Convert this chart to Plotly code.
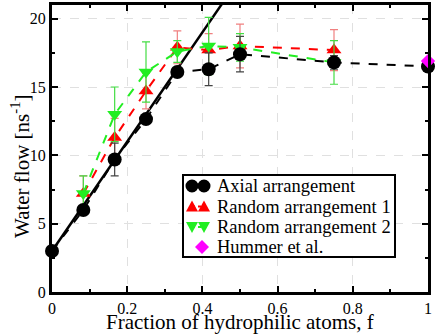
import plotly.graph_objects as go

# fraction of hydrophilic atoms
frac = [0, 1/12, 2/12, 3/12, 4/12, 5/12, 6/12, 9/12, 1]
frac_rand = [1/12, 2/12, 3/12, 4/12, 5/12, 6/12, 9/12]

axial = [3.0, 6.0, 9.7, 12.65, 16.1, 16.3, 17.4, 16.8, 16.5]
axial_err = [0.0, 0.2, 1.2, 0.0, 0.0, 1.2, 1.3, 0.5, 0.0]

rand1 = [7.2, 11.3, 14.7, 17.9, 17.7, 18.0, 17.7]
rand1_err = [1.3, 1.4, 1.3, 1.2, 1.2, 1.6, 1.5]

rand2 = [7.2, 13.0, 16.1, 17.6, 18.0, 17.9, 16.8]
rand2_err = [1.3, 2.0, 2.2, 0.8, 2.1, 1.0, 1.6]

hummer_x = [1]
hummer_y = [16.9]

# linear fit for the axial arrangement at low f
fit_intercept = 3.0
fit_slope = 40.0
fit_x = [0, 0.5]
fit_y = [fit_intercept + fit_slope * v for v in fit_x]

legend_names = ["Axial arrangement", "Random arrangement 1", "Random arrangement 2", "Hummer et al."]

FONT = "Liberation Serif"
W, H = 436, 335
L, R, T, B = 52, 8, 5, 43
PW, PH = W - L - R, H - T - B


def px(xp):
    return (xp - L) / PW


def py(yp):
    return (H - B - yp) / PH


fig = go.Figure()

fig.add_trace(go.Scatter(
    x=fit_x, y=fit_y, mode="lines", showlegend=False,
    line=dict(color="black", width=2.5), hoverinfo="skip"))

fig.add_trace(go.Scatter(
    x=frac_rand, y=rand1, mode="lines+markers", name=legend_names[1],
    line=dict(color="red", width=2, dash="dash"),
    marker=dict(symbol="triangle-up", size=13, color="red"),
    error_y=dict(type="data", array=rand1_err, color="#f08080", thickness=1.2, width=4)))

fig.add_trace(go.Scatter(
    x=frac_rand, y=rand2, mode="lines+markers", name=legend_names[2],
    line=dict(color="#22ee22", width=2, dash="dash"),
    marker=dict(symbol="triangle-down", size=13, color="#22ee22"),
    error_y=dict(type="data", array=rand2_err, color="#44dd44", thickness=1.2, width=4)))

fig.add_trace(go.Scatter(
    x=frac, y=axial, mode="lines+markers", name=legend_names[0],
    line=dict(color="black", width=2, dash="dash"), cliponaxis=False,
    marker=dict(symbol="circle", size=14, color="black"),
    error_y=dict(type="data", array=axial_err, color="#444444", thickness=1.2, width=4)))

fig.add_trace(go.Scatter(
    x=hummer_x, y=hummer_y, mode="markers", name=legend_names[3], cliponaxis=False,
    marker=dict(symbol="diamond", size=11, color="magenta")))

# hand-drawn legend (xmgrace style, tight rows)
shapes = [dict(type="rect", xref="paper", yref="paper",
               x0=px(183), x1=px(395), y0=py(257), y1=py(175),
               line=dict(color="black", width=2), fillcolor="white", layer="above")]
annotations = []
row_y = [186, 206.5, 227, 247]
sym_x = [192, 204]
colors = ["black", "red", "#22ee22", "magenta"]
paths = {
    "up": "M -6,-5 L 6,-5 L 0,6 Z",
    "down": "M -6,5 L 6,5 L 0,-6 Z",
    "diamond": "M 0,-7 L 7,0 L 0,7 L -7,0 Z",
}
kinds = ["circle", "up", "down", "diamond"]
for i, (yy, c, k) in enumerate(zip(row_y, colors, kinds)):
    if k != "diamond":
        shapes.append(dict(type="line", xref="paper", yref="paper",
                           x0=px(sym_x[0]), x1=px(sym_x[1]), y0=py(yy), y1=py(yy),
                           line=dict(color=c, width=2, dash="dot"), layer="above"))
        xs = sym_x
    else:
        xs = [202]
    for xc in xs:
        if k == "circle":
            shapes.append(dict(type="circle", xref="paper", yref="paper",
                               xsizemode="pixel", ysizemode="pixel",
                               xanchor=px(xc), yanchor=py(yy),
                               x0=-6.5, x1=6.5, y0=-6.5, y1=6.5,
                               fillcolor=c, line=dict(color=c, width=0), layer="above"))
        else:
            shapes.append(dict(type="path", xref="paper", yref="paper",
                               xsizemode="pixel", ysizemode="pixel",
                               xanchor=px(xc), yanchor=py(yy), path=paths[k],
                               fillcolor=c, line=dict(color=c, width=0), layer="above"))
    annotations.append(dict(xref="paper", yref="paper", x=px(215), y=py(yy),
                            xanchor="left", yanchor="middle", showarrow=False,
                            text=legend_names[i], font=dict(family=FONT, size=18.5, color="black")))

# axis titles
annotations.append(dict(xref="paper", yref="paper", x=px(240), y=py(322),
                        xanchor="center", yanchor="middle", showarrow=False,
                        text="Fraction of hydrophilic atoms, f",
                        font=dict(family=FONT, size=21, color="black")))
annotations.append(dict(xref="paper", yref="paper", x=px(20), y=py(166),
                        xanchor="center", yanchor="middle", showarrow=False, textangle=-90,
                        text="Water flow [ns<sup>-1</sup>]",
                        font=dict(family=FONT, size=21, color="black")))

fig.update_layout(
    width=W, height=H,
    margin=dict(l=L, r=R, t=T, b=B),
    paper_bgcolor="white", plot_bgcolor="white",
    font=dict(family=FONT, size=16, color="black"),
    showlegend=False,
    shapes=shapes, annotations=annotations,
)

fig.update_xaxes(
    range=[0, 1], tickvals=[0, 0.2, 0.4, 0.6, 0.8, 1], ticktext=["0", "0.2", "0.4", "0.6", "0.8", "1"],
    showline=True, linecolor="black", linewidth=3, mirror="ticks",
    ticks="inside", ticklen=6, tickcolor="black", tickwidth=1.5,
    minor=dict(dtick=0.1, ticks="inside", ticklen=3, tickcolor="black", showgrid=False),
    showgrid=True, gridcolor="#e0e0e0", griddash="dash", gridwidth=1,
    zeroline=False, automargin=False, tickfont=dict(size=16),
)
fig.update_yaxes(
    range=[0, 21], tickvals=[0, 5, 10, 15, 20],
    showline=True, linecolor="black", linewidth=3, mirror="ticks",
    ticks="inside", ticklen=6, tickcolor="black", tickwidth=1.5,
    minor=dict(dtick=2.5, ticks="inside", ticklen=3, tickcolor="black", showgrid=False),
    showgrid=True, gridcolor="#e0e0e0", griddash="dash", gridwidth=1,
    zeroline=False, automargin=False,
)

fig.write_html("out.html", config={"displayModeBar": False},
               post_script="document.body.style.margin='0';")
